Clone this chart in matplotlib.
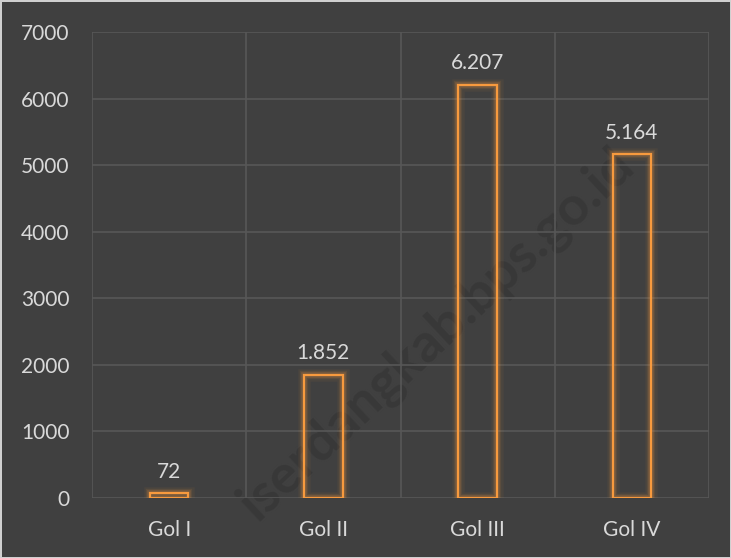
import matplotlib.pyplot as plt
import numpy as np

categories = ['Gol I', 'Gol II', 'Gol III', 'Gol IV']
values = [72, 1852, 6207, 5164]
labels = ['72', '1.852', '6.207', '5.164']
yticks = [0, 1000, 2000, 3000, 4000, 5000, 6000, 7000]

bg = '#404040'
orange = '#F79A3E'
plt.rcParams['font.family'] = ['Lato', 'DejaVu Sans']

fig = plt.figure(figsize=(7.31, 5.58), dpi=100, facecolor=bg,
                 edgecolor='#D0D0D0', linewidth=2)
ax = fig.add_axes([92 / 731, 1 - 498 / 558, 617 / 731, 466 / 558])
ax.patch.set_alpha(0)

# watermark behind the chart
fig.text(636 / 731, 1 - 168 / 558, 'iserdangkab.bps.go.id', rotation=43,
         rotation_mode='anchor', fontsize=39, color='#383838',
         fontweight='bold', ha='right', va='baseline', zorder=-1)

x = np.arange(len(categories))
# soft glow round each bar
for lw, a in [(9, 0.06), (6, 0.10), (4, 0.18)]:
    ax.bar(x, values, width=0.25, facecolor='none', edgecolor=orange,
           linewidth=lw, alpha=a, zorder=2)
ax.bar(x, values, width=0.25, facecolor='none', edgecolor=orange,
       linewidth=1.6, zorder=3)

for xi, v, t in zip(x, values, labels):
    ax.text(xi, v + 170, t, ha='center', va='bottom', fontsize=15,
            color='#D9D9D9')

ax.set_xlim(-0.5, 3.5)
ax.set_ylim(0, 7000)
ax.set_yticks(yticks)
ax.set_xticks(x)
ax.set_xticklabels(categories)
ax.grid(False)
for yv in yticks:
    ax.axhline(yv, color='#575757', lw=1.2, zorder=1)
for xv in np.arange(-0.5, 4, 1):
    ax.axvline(xv, color='#575757', lw=1.2, zorder=1)
ax.tick_params(which='both', length=0, colors='#D9D9D9', labelsize=15)
ax.tick_params(axis='y', pad=16)
ax.tick_params(axis='x', pad=16)
for s in ax.spines.values():
    s.set_visible(False)

fig.savefig('out.png', dpi=100, facecolor=bg, edgecolor='#D0D0D0')
